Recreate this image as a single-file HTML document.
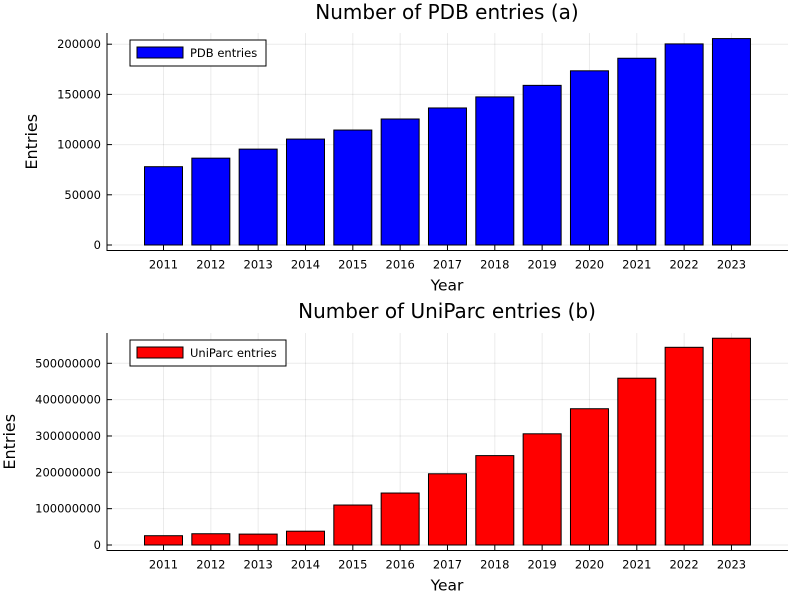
<!DOCTYPE html>
<html><head><meta charset="utf-8"><style>
body{margin:0;background:#fff;font-family:"Liberation Sans","DejaVu Sans",sans-serif}
svg text{font-family:"DejaVu Sans","Liberation Sans",sans-serif;fill:#000}
</style></head><body>
<svg id="c" width="800" height="600" xmlns="http://www.w3.org/2000/svg"></svg>
<script>
const years=["2011","2012","2013","2014","2015","2016","2017","2018","2019","2020","2021","2022","2023"];
const pdbValues=[78000,86500,95500,105500,114500,125500,136500,147500,159000,173500,186000,200300,205600];
const uniparcValues=[25600,31000,30000,38000,110000,143000,196000,246000,306000,375000,459000,544000,569000].map(v=>v*1000);
const pdbTicks=[0,50000,100000,150000,200000];
const uniparcTicks=[0,100000000,200000000,300000000,400000000,500000000];
const svg=document.getElementById('c');
const NS='http://www.w3.org/2000/svg';
function mk(t,a,parent){const e=document.createElementNS(NS,t);for(const k in a)e.setAttribute(k,a[k]);(parent||svg).appendChild(e);return e;}
function panel(cfg){
  const g=mk('g',{});
  
  
  const x0=107,x1=788;
  const xs=i=>163.5+i*47.33;
  const ys=v=>cfg.zeroY-(v/cfg.topVal)*(cfg.zeroY-cfg.topY);
  cfg.ticks.forEach(t=>{const l=mk('line',{x1:x0,x2:x1,y1:ys(t),y2:ys(t),stroke:'#000','stroke-opacity':0.08,'stroke-width':1},g);
    
    });
  years.forEach((y,i)=>{const l=mk('line',{x1:xs(i),x2:xs(i),y1:cfg.plotTop,y2:cfg.axisY,stroke:'#000','stroke-opacity':0.08,'stroke-width':1},g);
    
    });
  cfg.values.forEach((v,i)=>{const r=mk('rect',{x:xs(i)-19,y:ys(v),width:38,height:ys(0)-ys(v),fill:cfg.color,stroke:'#000','stroke-width':1},g);
    
    });
  mk('line',{x1:x0,x2:x0,y1:cfg.plotTop,y2:cfg.axisY+0.5,stroke:'#000','stroke-width':1},g);
  mk('line',{x1:x0,x2:x1,y1:cfg.axisY,y2:cfg.axisY,stroke:'#000','stroke-width':1},g);
  cfg.ticks.forEach(t=>{mk('line',{x1:x0,x2:x0+5,y1:ys(t),y2:ys(t),stroke:'#000'},g);
    const tx=mk('text',{x:x0-6,y:ys(t)+4,'text-anchor':'end','font-size':11.5},g);tx.textContent=String(t);
    
    });
  years.forEach((y,i)=>{mk('line',{x1:xs(i),x2:xs(i),y1:cfg.axisY,y2:cfg.axisY-5,stroke:'#000'},g);
    const tx=mk('text',{x:xs(i),y:cfg.axisY+18,'text-anchor':'middle','font-size':11.5},g);tx.textContent=y;
    
    });
  const title=mk('text',{x:447,y:cfg.titleY,'text-anchor':'middle','font-size':20},g);title.textContent=cfg.title;
  
  
  const xl=mk('text',{x:447,y:cfg.axisY+40,'text-anchor':'middle','font-size':15.5},g);xl.textContent='Year';
  
  
  const yl=mk('text',{x:0,y:0,'text-anchor':'middle','font-size':16,transform:`translate(${cfg.ylx},${(cfg.plotTop+cfg.axisY)/2}) rotate(-90)`},g);yl.textContent='Entries';
  
  
  const lg=mk('g',{},g);
  
  
  mk('rect',{x:130,y:cfg.plotTop+7,width:cfg.legW,height:26,fill:'#fff',stroke:'#000','stroke-width':1},lg);
  mk('rect',{x:137,y:cfg.plotTop+14,width:46,height:11,fill:cfg.color,stroke:'#000','stroke-width':1},lg);
  const lt=mk('text',{x:190,y:cfg.plotTop+24,'font-size':11.5},lg);lt.textContent=cfg.legend;
  
  
}
panel({id:'pdb',values:pdbValues,ticks:pdbTicks,topVal:200000,zeroY:245,topY:44.2,plotTop:33,axisY:250.5,color:'#0000ff',title:'Number of PDB entries (a)',titleY:19,ylx:37,legend:'PDB entries',legW:136});
panel({id:'uniparc',values:uniparcValues,ticks:uniparcTicks,topVal:500000000,zeroY:545,topY:363.3,plotTop:333,axisY:550.5,color:'#ff0000',title:'Number of UniParc entries (b)',titleY:318,ylx:15,legend:'UniParc entries',legW:156});
</script>
</body></html>
